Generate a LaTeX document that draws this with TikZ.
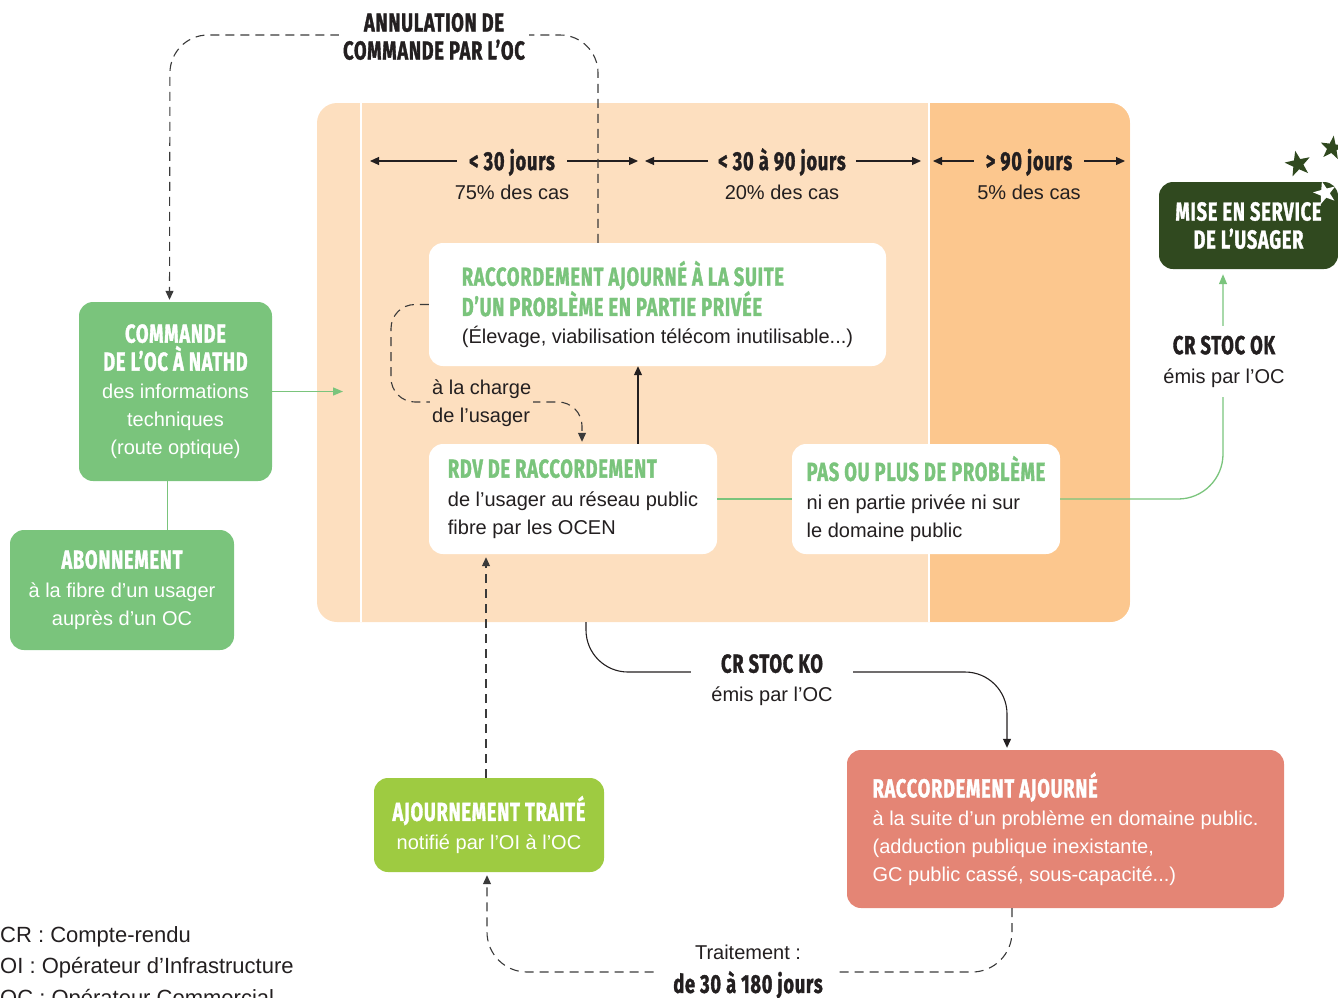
\documentclass[tikz,border=0pt]{standalone}
\usepackage{fontspec}
\setmainfont{Liberation Sans}
\newfontfamily\hfont{Fira Sans}[FakeStretch=0.7, FakeBold=1.3, LetterSpace=3]
\usetikzlibrary{arrows.meta,shapes.geometric,calc}

\definecolor{ink}{HTML}{231F20}
\definecolor{peach}{HTML}{FDDFBF}
\definecolor{peachdark}{HTML}{FCC78E}
\definecolor{leaf}{HTML}{7AC47C}
\definecolor{forest}{HTML}{30491F}
\definecolor{lime}{HTML}{9ECB41}
\definecolor{salmon}{HTML}{E48575}
\definecolor{dashgray}{HTML}{3A3A3A}

% condensed bold heading text
\newcommand\hd[1]{{\hfont\bfseries\fontsize{26}{28}\selectfont #1}}

\tikzset{
  body/.style={font=\fontsize{20}{28}\selectfont, text=ink, inner sep=0pt},
  card/.style={body, rounded corners=14pt, fill=white, align=left},
  colcard/.style={card, fill=#1, text=white},
  hdr/.style={font=\hfont\bfseries\fontsize{26}{28}\selectfont, text=ink,
    inner sep=0pt, text height=18pt, text depth=0pt},
  tiparrow/.style={draw=ink, line width=1.1pt, -{Triangle[length=9pt,width=8pt]}},
  dashline/.style={draw=dashgray, line width=1.1pt, dash pattern=on 9pt off 6pt,
    -{Triangle[length=9pt,width=8pt]}},
  gline/.style={draw=leaf, line width=1.3pt},
  garrow/.style={gline, -{Triangle[length=10pt,width=8pt]}},
  mask/.style={body, align=center, inner sep=4pt}
}

\begin{document}
\begin{tikzpicture}[x=1pt, y=-1pt]
\useasboundingbox (0,0) rectangle (1338,997);

% time panel
\fill[peach, rounded corners=20pt] (317,103) rectangle (1130,622);
\begin{scope}
  \clip[rounded corners=20pt] (317,103) rectangle (1130,622);
  \fill[peachdark] (930,103) rectangle (1130,622);
\end{scope}
\draw[white, line width=2.5pt] (361,103) -- (361,622);
\draw[white, line width=2.5pt] (929,103) -- (929,622);

% duration headers
\node[hdr] (h1) at (512,161) {< 30 jours};
\node[hdr] (h2) at (782,161) {< 30 à 90 jours};
\node[hdr] (h3) at (1029,161) {> 90 jours};
\node[body, anchor=base] (p1) at (512,199) {75\% des cas};
\node[body, anchor=base] (p2) at (782,199) {20\% des cas};
\node[body, anchor=base] (p3) at (1029,199) {5\% des cas};
\draw[tiparrow] ([xshift=-12pt]h1.west) -- (370,161);
\draw[tiparrow] ([xshift=12pt]h1.east) -- (638,161);
\draw[tiparrow] ([xshift=-10pt]h2.west) -- (645,161);
\draw[tiparrow] ([xshift=10pt]h2.east) -- (921,161);
\draw[tiparrow] ([xshift=-12pt]h3.west) -- (933,161);
\draw[tiparrow] ([xshift=12pt]h3.east) -- (1125,161);

% boxes
\node[card, minimum width=457, minimum height=123] (ajp) at (657.5,304.5)
  {\hd{\color{leaf}RACCORDEMENT AJOURNÉ À LA SUITE}\\
   \hd{\color{leaf}D’UN PROBLÈME EN PARTIE PRIVÉE}\\
   (Élevage, viabilisation télécom inutilisable...)};
\node[card, minimum width=288, minimum height=110] (rdv) at (573,499)
  {\hd{\color{leaf}RDV DE RACCORDEMENT}\\[1pt]
   de l’usager au réseau public\\
   fibre par les OCEN};
\node[card, minimum width=268, minimum height=110] (pas) at (926,499)
  {\hd{\color{leaf}PAS OU PLUS DE PROBLÈME}\\[1pt]
   ni en partie privée ni sur\\
   le domaine public};
\node[colcard=leaf, align=center, minimum width=193, minimum height=179] (cmd) at (175.5,391.5)
  {\hd{COMMANDE}\\
   \hd{DE L’OC À NATHD}\\
   des informations\\
   techniques\\
   (route optique)};
\node[colcard=leaf, align=center, minimum width=224, minimum height=120] (abo) at (122,590)
  {\hd{ABONNEMENT}\\[1pt]
   à la fibre d’un usager\\
   auprès d’un OC};
\node[colcard=forest, align=center, minimum width=179, minimum height=87] (mise) at (1248.5,225.5)
  {\hd{MISE EN SERVICE}\\
   \hd{DE L’USAGER}};
\node[colcard=lime, align=center, minimum width=230, minimum height=94] (ajt) at (489,825)
  {\hd{AJOURNEMENT TRAITÉ}\\[1pt]
   notifié par l’OI à l’OC};
\node[colcard=salmon, minimum width=437, minimum height=158] (raj) at (1065.5,829)
  {\hd{RACCORDEMENT AJOURNÉ}\\
   à la suite d’un problème en domaine public.\\
   (adduction publique inexistante,\\
   GC public cassé, sous-capacité...)};

% stars
\node[star, star points=5, star point ratio=2.5, fill=forest, minimum size=27pt, inner sep=0pt, rotate=12] (s1) at (1298,164) {};
\node[star, star points=5, star point ratio=2.5, fill=forest, minimum size=25pt, inner sep=0pt, rotate=-8] (s2) at (1332,148) {};
\node[star, star points=5, star point ratio=2.5, fill=white, minimum size=24pt, inner sep=0pt, rotate=15] (s3) at (1325,193) {};

% helper points on box edges
\coordinate (annulStart) at ($(ajp.north)+(-59.5,0)$);
\coordinate (cmdIn) at ($(cmd.north)+(-6,0)$);
\coordinate (rdvIn) at ($(rdv.north)+(9,0)$);
\coordinate (upStart) at ($(rdv.north)+(65,0)$);
\coordinate (cmdBot) at ($(cmd.south)+(-8,0)$);
\coordinate (okx) at ($(mise.south)+(-25.5,0)$);
\coordinate (koStart) at (586,622);
\coordinate (rajIn) at ($(raj.north)+(-58.5,0)$);
\coordinate (rajOut) at ($(raj.south)+(-53.5,0)$);
\coordinate (ajtIn) at ($(ajt.south)+(-2,0)$);
\coordinate (ajtOut) at ($(ajt.north)+(-3,0)$);
\coordinate (panelIn) at (343,391.5);

% connectors
\draw[dashline, rounded corners=38pt, shorten >=2pt] (annulStart) -- (598,35) -- (170,35) -- (cmdIn);
\draw[dashline, rounded corners=24pt, shorten >=2pt] (ajp.west) -- (391,304.5) -- (391,402) -- (582,402) -- (rdvIn);
\draw[tiparrow] (upStart) -- (upStart |- ajp.south);
\draw[garrow] (cmd.east) -- (panelIn);
\draw[gline] (cmdBot) -- (cmdBot |- abo.north);
\draw[gline] (rdv.east) -- (pas.west);
\draw[garrow, rounded corners=45pt, shorten >=5pt] (pas.east) -- (okx |- pas.east) -- (okx);
\draw[tiparrow, rounded corners=42pt, shorten >=2pt] (koStart) -- (586,672) -- (1007,672) -- (rajIn);
\draw[dashline, rounded corners=40pt, shorten >=3pt] (rajOut) -- (1012,972) -- (487,972) -- (ajtIn);
\draw[dashline, shorten >=3pt] (ajtOut) -- (ajtOut |- rdv.south);

% connector labels
\node[mask, fill=white] (annul) at (434,36.5) {\hd{ANNULATION DE}\\ \hd{COMMANDE PAR L’OC}};
\node[mask, fill=peach, align=left, anchor=west, inner sep=2pt] (charge) at (430,403) {à la charge\\ de l’usager};
\node[mask, fill=white, inner ysep=10pt] (ok) at (1224,361.5) {\hd{CR STOC OK}\\[1pt] émis par l’OC};
\node[mask, fill=white, inner xsep=20pt] (ko) at (772,680) {\hd{CR STOC KO}\\[1pt] émis par l’OC};
\node[mask, fill=white, inner xsep=16pt] (trt) at (748,972) {Traitement :\\[5pt] \hd{de 30 à 180 jours}};

% legend
\node[body, align=left, anchor=north west, font=\fontsize{22}{31.5}\selectfont] (legend) at (0,926)
  {CR : Compte-rendu\\ OI : Opérateur d’Infrastructure\\ OC : Opérateur Commercial};
\end{tikzpicture}
\end{document}
